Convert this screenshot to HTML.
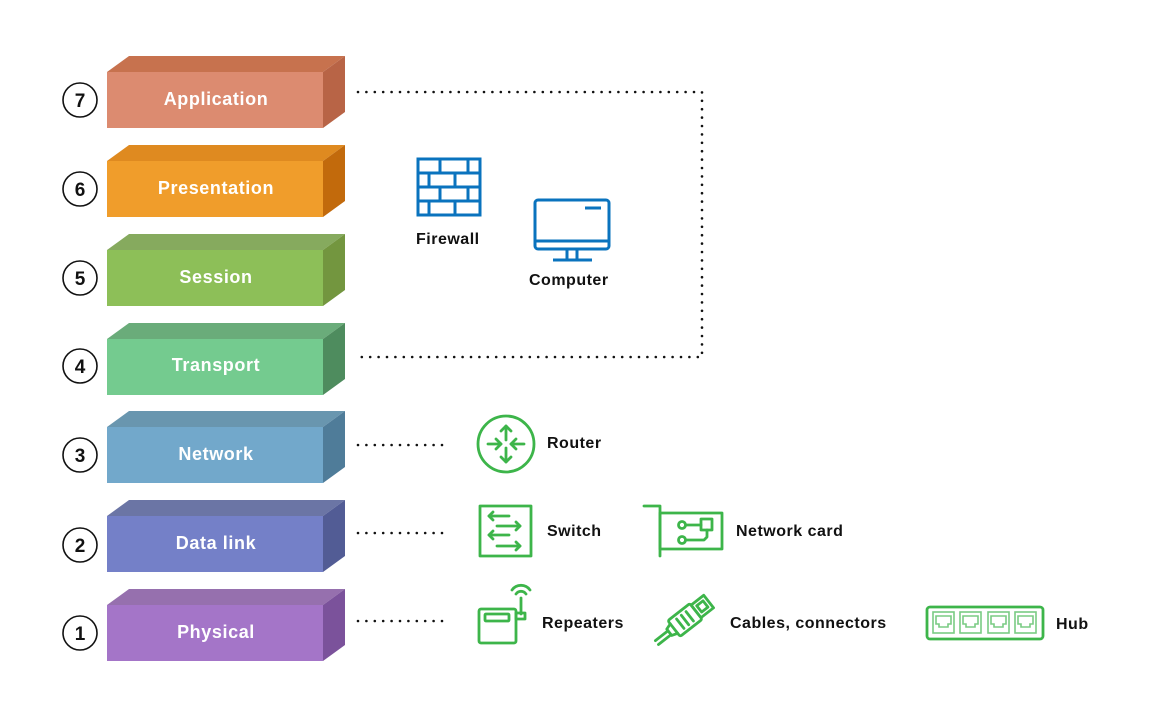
<!DOCTYPE html>
<html><head><meta charset="utf-8"><style>
html,body{margin:0;padding:0;background:#fff;}
svg{display:block;}
text{font-family:"Liberation Sans",sans-serif;font-weight:bold;}
</style></head><body>
<svg width="1154" height="716" viewBox="0 0 1154 716" xmlns="http://www.w3.org/2000/svg">
<g id="layers" font-size="18" letter-spacing="0.6">
<g>
<polygon points="107,72 129,56 345,56 323,72" fill="#C7724E"/>
<polygon points="323,72 345,56 345,112 323,128" fill="#B86446"/>
<rect x="107" y="72" width="216" height="56" fill="#DC8B70"/>
<text x="216" y="105" text-anchor="middle" fill="#fff">Application</text>
</g>
<g>
<polygon points="107,161 129,145 345,145 323,161" fill="#DF8A20"/>
<polygon points="323,161 345,145 345,201 323,217" fill="#C26A0C"/>
<rect x="107" y="161" width="216" height="56" fill="#F09D2B"/>
<text x="216" y="194" text-anchor="middle" fill="#fff">Presentation</text>
</g>
<g>
<polygon points="107,250 129,234 345,234 323,250" fill="#86AA5E"/>
<polygon points="323,250 345,234 345,290 323,306" fill="#73963F"/>
<rect x="107" y="250" width="216" height="56" fill="#8DBF58"/>
<text x="216" y="283" text-anchor="middle" fill="#fff">Session</text>
</g>
<g>
<polygon points="107,339 129,323 345,323 323,339" fill="#6AAC7A"/>
<polygon points="323,339 345,323 345,379 323,395" fill="#4E8C5E"/>
<rect x="107" y="339" width="216" height="56" fill="#74CB8F"/>
<text x="216" y="371" text-anchor="middle" fill="#fff">Transport</text>
</g>
<g>
<polygon points="107,427 129,411 345,411 323,427" fill="#6996AF"/>
<polygon points="323,427 345,411 345,467 323,483" fill="#4F7C99"/>
<rect x="107" y="427" width="216" height="56" fill="#72A8CB"/>
<text x="216" y="460" text-anchor="middle" fill="#fff">Network</text>
</g>
<g>
<polygon points="107,516 129,500 345,500 323,516" fill="#6B75A5"/>
<polygon points="323,516 345,500 345,556 323,572" fill="#525C95"/>
<rect x="107" y="516" width="216" height="56" fill="#7480C8"/>
<text x="216" y="549" text-anchor="middle" fill="#fff">Data link</text>
</g>
<g>
<polygon points="107,605 129,589 345,589 323,605" fill="#9670AE"/>
<polygon points="323,605 345,589 345,645 323,661" fill="#7B529B"/>
<rect x="107" y="605" width="216" height="56" fill="#A475C8"/>
<text x="216" y="638" text-anchor="middle" fill="#fff">Physical</text>
</g>
</g>
<g fill="#fff" stroke="#111" stroke-width="1.6">
<circle cx="80" cy="100" r="17"/><circle cx="80" cy="189" r="17"/><circle cx="80" cy="278" r="17"/>
<circle cx="80" cy="366" r="17"/><circle cx="80" cy="455" r="17"/><circle cx="80" cy="545" r="17"/><circle cx="80" cy="633" r="17"/>
</g>
<g fill="#111" font-size="19" text-anchor="middle">
<text x="80" y="107">7</text><text x="80" y="196">6</text><text x="80" y="285">5</text>
<text x="80" y="373">4</text><text x="80" y="462">3</text><text x="80" y="552">2</text><text x="80" y="640">1</text>
</g>
<g stroke="#111" stroke-width="2.6" stroke-linecap="round" stroke-dasharray="0 8.4" fill="none">
<polyline points="358,92 702,92 702,357 358,357"/>
<line x1="358" y1="445" x2="450" y2="445"/>
<line x1="358" y1="533" x2="450" y2="533"/>
<line x1="358" y1="621" x2="450" y2="621"/>
</g>
<g stroke="#0A73BE" stroke-width="3" fill="none">
<rect x="418" y="159" width="62" height="56"/>
<line x1="418" y1="173" x2="480" y2="173"/><line x1="418" y1="187" x2="480" y2="187"/><line x1="418" y1="201" x2="480" y2="201"/>
<line x1="440" y1="159" x2="440" y2="173"/><line x1="468" y1="159" x2="468" y2="173"/>
<line x1="429" y1="173" x2="429" y2="187"/><line x1="455" y1="173" x2="455" y2="187"/>
<line x1="440" y1="187" x2="440" y2="201"/><line x1="468" y1="187" x2="468" y2="201"/>
<line x1="429" y1="201" x2="429" y2="215"/><line x1="455" y1="201" x2="455" y2="215"/>
<rect x="535" y="200" width="74" height="49" rx="3"/>
<line x1="535" y1="241" x2="609" y2="241"/>
<line x1="567" y1="249" x2="567" y2="259"/><line x1="577" y1="249" x2="577" y2="259"/>
<line x1="553" y1="260" x2="592" y2="260"/>
<line x1="585" y1="208" x2="601" y2="208"/>
</g>
<g font-size="16" fill="#111" letter-spacing="0.5">
<text x="416" y="244">Firewall</text>
<text x="529" y="285">Computer</text>
<text x="547" y="448">Router</text>
<text x="547" y="536">Switch</text>
<text x="736" y="536">Network card</text>
<text x="542" y="628">Repeaters</text>
<text x="730" y="628">Cables, connectors</text>
<text x="1056" y="629">Hub</text>
</g>
<g stroke="#3DB54A" stroke-width="2.8" fill="none" stroke-linecap="round" stroke-linejoin="round">
<circle cx="506" cy="444" r="28"/>
<line x1="506" y1="426" x2="506" y2="440"/><polyline points="501,431 506,426 511,431"/>
<line x1="506" y1="448" x2="506" y2="462"/><polyline points="501,457 506,462 511,457"/>
<line x1="488" y1="444" x2="501" y2="444"/><polyline points="496,439 501,444 496,449"/>
<line x1="511" y1="444" x2="524" y2="444"/><polyline points="516,439 511,444 516,449"/>
<rect x="480" y="506" width="51" height="50"/>
<line x1="489" y1="516" x2="509" y2="516"/><polyline points="493,512 489,516 493,520"/>
<line x1="497" y1="526" x2="520" y2="526"/><polyline points="516,522 520,526 516,530"/>
<line x1="489" y1="535" x2="509" y2="535"/><polyline points="493,531 489,535 493,539"/>
<line x1="497" y1="546" x2="520" y2="546"/><polyline points="516,542 520,546 516,550"/>
<polyline points="644,506 660,506 660,556"/>
<rect x="660" y="513" width="62" height="36"/>
<circle cx="682" cy="525" r="3.5"/><line x1="686" y1="525" x2="701" y2="525"/>
<rect x="701" y="519" width="11" height="11"/>
<circle cx="682" cy="540" r="3.5"/><polyline points="686,540 704,540 707,537 707,530"/>
<rect x="479" y="609" width="37" height="34" rx="2"/>
<rect x="485" y="614" width="24" height="7" rx="1"/>
<line x1="521" y1="598" x2="521" y2="614"/><rect x="516" y="613" width="9" height="6"/>
<path d="M516,594 a6,6 0 0 1 10,0"/><path d="M512,590 a11,11 0 0 1 18,0"/>
<g transform="translate(685,620) rotate(-38)">
<rect x="-14" y="-10" width="28" height="20" rx="2"/>
<rect x="14" y="-8" width="16" height="16"/>
<rect x="18" y="-4" width="8" height="8"/>
<line x1="-6" y1="-6" x2="-6" y2="6"/><line x1="0" y1="-6" x2="0" y2="6"/><line x1="6" y1="-6" x2="6" y2="6"/>
<polyline points="-14,-6 -20,-4 -20,4 -14,6"/>
<line x1="-20" y1="-2" x2="-36" y2="-2"/><line x1="-20" y1="3" x2="-36" y2="3"/>
</g>
<rect x="927" y="607" width="116" height="32" rx="3"/>
</g>
<g stroke="#7ACB84" stroke-width="1.6" fill="none">
<rect x="933" y="612" width="21" height="21"/><rect x="960" y="612" width="21" height="21"/>
<rect x="988" y="612" width="21" height="21"/><rect x="1015" y="612" width="21" height="21"/>
<path d="M936,616 h15 v8 h-3 v3 h-9 v-3 h-3z"/>
<path d="M963,616 h15 v8 h-3 v3 h-9 v-3 h-3z"/>
<path d="M991,616 h15 v8 h-3 v3 h-9 v-3 h-3z"/>
<path d="M1018,616 h15 v8 h-3 v3 h-9 v-3 h-3z"/>
</g>
</svg>
</body></html>
